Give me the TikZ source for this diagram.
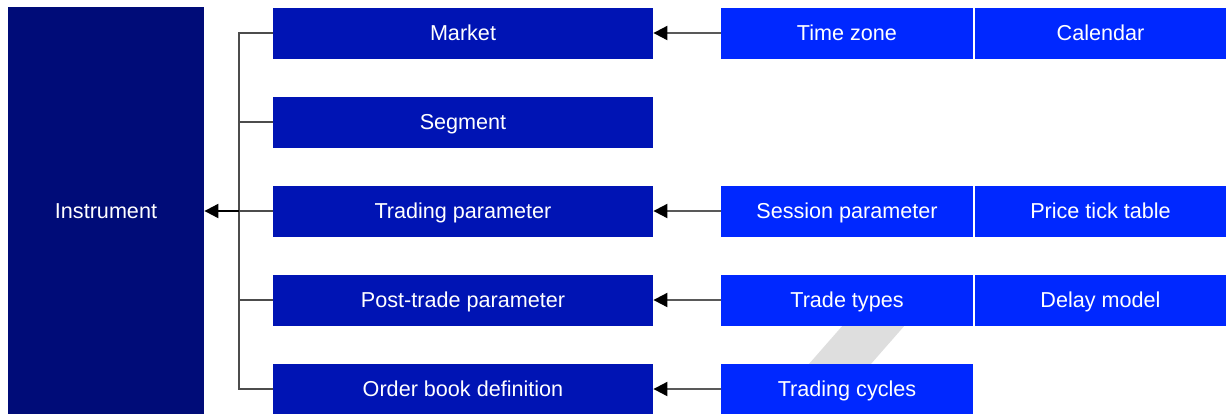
\documentclass[tikz,border=0pt]{standalone}
\usepackage{fontspec}
\setmainfont{Liberation Sans}
\usetikzlibrary{arrows.meta, positioning}
\definecolor{instblue}{RGB}{0,12,120}
\definecolor{midblue}{RGB}{0,20,180}
\definecolor{rightblue}{RGB}{0,40,255}
\tikzset{
  box/.style={text=white, inner sep=0pt, minimum height=25.5pt, text height=7.7pt, text depth=0pt, font=\fontsize{10.8}{13}\selectfont},
  midbox/.style={box, fill=midblue, minimum width=190pt},
  rightbox/.style={box, fill=rightblue, minimum width=126pt},
  tree/.style={draw=black!70, line width=1pt},
  feed/.style={draw=black!65, line width=1pt, -{Triangle[length=7pt, width=7pt, color=black]}}
}

\begin{document}
\begin{tikzpicture}[x=0.5pt, y=-0.5pt]
  \useasboundingbox (0,0) rectangle (1229,413);
  \clip (0,0) rectangle (1229,413);
  % watermark stripe
  \fill[black!13] (865,300) -- (927,300) -- (849,389) -- (787,389) -- cycle;
  \node[box, fill=instblue, minimum width=98pt, minimum height=204pt] (instrument) at (106,211) {Instrument};
  \node[midbox] (market) at (463,33) {Market};
  \node[midbox] (segment) at (463,122) {Segment};
  \node[midbox] (trading) at (463,211) {Trading parameter};
  \node[midbox] (posttrade) at (463,300) {Post-trade parameter};
  \node[midbox] (orderbook) at (463,389) {Order book definition};
  \node[rightbox] (timezone) at (847,33) {Time zone};
  \node[rightbox, minimum width=125.5pt] (calendar) at (1100.5,33) {Calendar};
  \node[rightbox] (session) at (847,211) {Session parameter};
  \node[rightbox, minimum width=125.5pt] (pricetick) at (1100.5,211) {Price tick table};
  \node[rightbox] (tradetypes) at (847,300) {Trade types};
  \node[rightbox, minimum width=125.5pt] (delay) at (1100.5,300) {Delay model};
  \node[rightbox] (cycles) at (847,389) {Trading cycles};
  % tree to the instrument
  \coordinate (bus) at (239,211);
  \foreach \n in {market, segment, trading, posttrade, orderbook}
    \draw[tree] (\n.west) -| (bus);
  \draw[line width=1pt, -{Triangle[length=7pt, width=7pt]}] (bus) -- (instrument.east);
  \foreach \a/\b in {timezone/market, session/trading, tradetypes/posttrade, cycles/orderbook}
    \draw[feed] (\a) -- (\b);
\end{tikzpicture}
\end{document}
